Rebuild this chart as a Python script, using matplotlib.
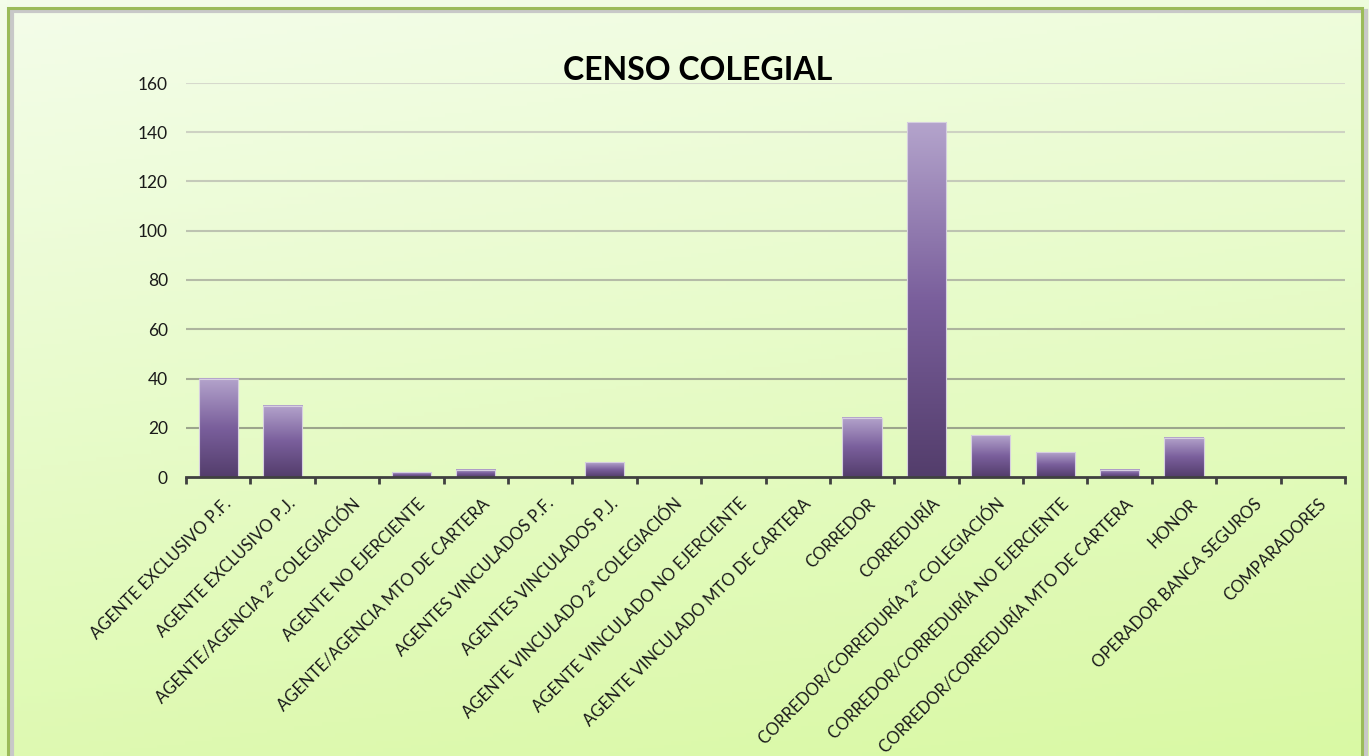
import numpy as np
import matplotlib
matplotlib.use("Agg")
import matplotlib.pyplot as plt
import matplotlib.patches as patches
from matplotlib.colors import LinearSegmentedColormap

title = "CENSO COLEGIAL"
categories = [
    "AGENTE EXCLUSIVO P.F.",
    "AGENTE EXCLUSIVO P.J.",
    "AGENTE/AGENCIA 2ª COLEGIACIÓN",
    "AGENTE NO EJERCIENTE",
    "AGENTE/AGENCIA MTO DE CARTERA",
    "AGENTES VINCULADOS P.F.",
    "AGENTES VINCULADOS P.J.",
    "AGENTE VINCULADO 2ª COLEGIACIÓN",
    "AGENTE VINCULADO NO EJERCIENTE",
    "AGENTE VINCULADO MTO DE CARTERA",
    "CORREDOR",
    "CORREDURÍA",
    "CORREDOR/CORREDURÍA 2ª COLEGIACIÓN",
    "CORREDOR/CORREDURÍA NO EJERCIENTE",
    "CORREDOR/CORREDURÍA MTO DE CARTERA",
    "HONOR",
    "OPERADOR BANCA SEGUROS",
    "COMPARADORES",
]
values = [40, 29, 0, 2, 3, 0, 6, 0, 0, 0, 24, 144, 17, 10, 3, 16, 0, 0]
yticks = [0, 20, 40, 60, 80, 100, 120, 140, 160]

plt.rcParams['font.family'] = ['Lato', 'DejaVu Sans']

fig = plt.figure(figsize=(13.69, 7.56), dpi=100)

# background gradient over the whole figure
bg = fig.add_axes([0, 0, 1, 1])
bg.set_axis_off()
gy, gx = np.mgrid[0:1:200j, 0:1:200j]
t = np.clip(0.8 * gy + 0.2 * gx, 0, 1)
top_col = np.array([0xf4, 0xfd, 0xea]) / 255
bot_col = np.array([0xd9, 0xf9, 0xa4]) / 255
img = top_col[None, None, :] * (1 - t[..., None]) + bot_col[None, None, :] * t[..., None]
bg.imshow(img, extent=[0, 1, 0, 1], aspect='auto', origin='upper')
bg.set_xlim(0, 1)
bg.set_ylim(0, 1)
# shadow + green border
bg.add_patch(patches.Rectangle((7.5 / 1369 + 0.003, -0.05), (1362 - 7.5) / 1369, 1 - 8 / 756 + 0.05 - 0.004,
                               fill=False, edgecolor='#c8c8c8', linewidth=3, zorder=2))
bg.add_patch(patches.Rectangle((7.5 / 1369, -0.05), (1362 - 7.5) / 1369, 1 - 8 / 756 + 0.05,
                               fill=False, edgecolor='#9bbb59', linewidth=2.2, zorder=3))

ax = fig.add_axes([186 / 1369, 1 - 477 / 756, (1345 - 186) / 1369, (477 - 83) / 756])
ax.patch.set_alpha(0)

x = np.arange(len(categories))

# gridlines get lighter towards the top
dark_grid = np.array([0x9c, 0xa5, 0x8c]) / 255
light_grid = np.array([0xd6, 0xd9, 0xcc]) / 255
for yt in yticks[1:]:
    f = (yt - 20) / 140
    ax.axhline(yt, color=tuple(dark_grid * (1 - f) + light_grid * f), linewidth=1.5, zorder=1)

cm = LinearSegmentedColormap.from_list("bar_grad", ["#533d6b", "#7a5f9c", "#b4a4cc"])
w = 0.61
grad = np.linspace(0, 1, 256).reshape(-1, 1)
for xi, v in zip(x, values):
    if v <= 0:
        continue
    ax.imshow(grad, cmap=cm, extent=[xi - w / 2, xi + w / 2, 0, v], origin='lower',
              aspect='auto', zorder=2)
    ax.add_patch(patches.Rectangle((xi - w / 2, 0), w, v, fill=False,
                                   edgecolor='#d6cfe0', linewidth=0.8, zorder=3))
ax.set_xlim(-0.5, len(categories) - 0.5)
ax.set_ylim(0, 160)

for s in ['top', 'right', 'left']:
    ax.spines[s].set_visible(False)
ax.spines['bottom'].set_color('#404040')
ax.spines['bottom'].set_linewidth(2)
ax.spines['bottom'].set_zorder(4)

ax.set_yticks(yticks)
ax.set_yticklabels([str(v) for v in yticks], fontsize=12.5, color='#1a1a1a')
ax.tick_params(axis='y', length=0, pad=13)

ax.set_xticks(np.arange(len(categories) + 1) - 0.5, minor=False)
ax.set_xticklabels([])
ax.tick_params(axis='x', length=5, width=2, color='#404040', direction='out')
for xi, lab in zip(x, categories):
    ax.text(xi + 0.08, -7.5, lab, rotation=45, ha='right', va='top', fontsize=12,
            color='#1a1a1a', rotation_mode='anchor', transform=ax.transData)

fig.text(698 / 1369, 1 - 70 / 756, title, ha='center', va='center', fontsize=23,
         fontweight='bold', color='#000000')

fig.savefig("out.png", dpi=100)
